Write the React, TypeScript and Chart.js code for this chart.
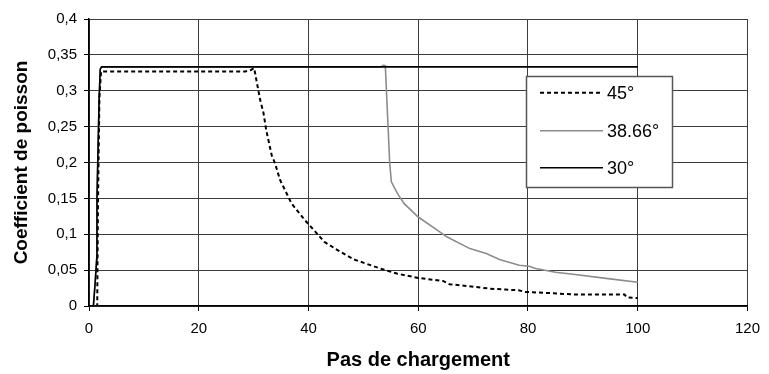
import React, { useEffect, useRef } from "react";
import { Chart, registerables } from "chart.js";

Chart.register(...registerables);

// Série 45°
const steps45 = [0, 1.5, 1.55, 1.65, 1.9, 2.2, 28.5, 29.5, 30.1, 30.6, 31.2, 31.8, 32.3, 32.7, 33.3, 33.9, 34.8, 36.9, 39.3, 42.9, 45.3, 48.3, 53.1, 56.1, 60, 64.5, 65.7, 69.3, 72.9, 75.9, 78.3, 79.5, 84, 88.6, 97.6, 98, 100];
const values45 = [0, 0, 0.06, 0.15, 0.29, 0.327, 0.327, 0.329, 0.3315, 0.311, 0.287, 0.269, 0.245, 0.231, 0.21, 0.199, 0.176, 0.143, 0.12, 0.0894, 0.0778, 0.0648, 0.0522, 0.0452, 0.0391, 0.0349, 0.0303, 0.0275, 0.0243, 0.0229, 0.0219, 0.0196, 0.018, 0.016, 0.0159, 0.012, 0.011];

// Série 38.66°
const steps3866 = [0, 0.8, 1.1, 1.4, 1.45, 1.85, 2.05, 2.3, 53.2, 53.6, 54.0, 54.2, 54.5, 54.8, 55.1, 56.2, 57.4, 60.0, 63.4, 65.2, 69.4, 72.4, 74.8, 78.4, 80.2, 81.4, 85, 88.6, 94.6, 100];
const values3866 = [0, 0, 0.03, 0.065, 0.15, 0.29, 0.33, 0.3333, 0.3333, 0.3355, 0.335, 0.301, 0.25, 0.199, 0.173, 0.157, 0.143, 0.124, 0.106, 0.0964, 0.08, 0.0732, 0.0648, 0.0568, 0.0554, 0.0522, 0.047, 0.0438, 0.0382, 0.033];

// Série 30°
const steps30 = [0, 0.8, 1.1, 1.4, 1.45, 1.85, 2.05, 2.3, 100];
const values30 = [0, 0, 0.03, 0.065, 0.15, 0.29, 0.33, 0.3335, 0.3333];

const seriesLabels = ["45°", "38.66°", "30°"];
const xTitle = "Pas de chargement";
const yTitle = "Coefficient de poisson";

const toPoints = (xs: number[], ys: number[]) => xs.map((x, i) => ({ x, y: ys[i] }));

const boxLegend = {
  id: "boxLegend",
  afterDatasetsDraw(chart: any) {
    const ctx = chart.ctx as CanvasRenderingContext2D;
    const bx = 526, by = 76, bw = 146, bh = 111;
    ctx.save();
    ctx.fillStyle = "#ffffff";
    ctx.fillRect(bx, by, bw, bh);
    ctx.strokeStyle = "#555555";
    ctx.lineWidth = 1.5;
    ctx.strokeRect(bx + 0.5, by + 0.5, bw, bh);
    const rows = [92.7, 130.7, 167.7];
    chart.data.datasets.forEach((ds: any, i: number) => {
      const y = rows[i];
      ctx.beginPath();
      ctx.strokeStyle = ds.borderColor;
      ctx.lineWidth = ds.borderWidth;
      ctx.setLineDash(ds.borderDash || []);
      ctx.moveTo(540, y);
      ctx.lineTo(603, y);
      ctx.stroke();
      ctx.setLineDash([]);
      ctx.fillStyle = "#000";
      ctx.font = "18px 'Liberation Sans', Arial, sans-serif";
      ctx.textBaseline = "middle";
      ctx.textAlign = "left";
      ctx.fillText(ds.label, 607, y + 1);
    });
    ctx.restore();
  },
};

export default function App() {
  const ref = useRef<HTMLCanvasElement | null>(null);

  useEffect(() => {
    if (!ref.current) return;
    const chart = new Chart(ref.current, {
      type: "line",
      data: {
        datasets: [
          {
            label: seriesLabels[0],
            data: toPoints(steps45, values45),
            borderColor: "#000000",
            borderWidth: 2,
            borderDash: [4, 3],
            pointRadius: 0,
            tension: 0,
            order: 0,
          },
          {
            label: seriesLabels[1],
            data: toPoints(steps3866, values3866),
            borderColor: "#8c8c8c",
            borderWidth: 1.6,
            pointRadius: 0,
            tension: 0,
            order: 2,
          },
          {
            label: seriesLabels[2],
            data: toPoints(steps30, values30),
            borderColor: "#000000",
            borderWidth: 1.6,
            pointRadius: 0,
            tension: 0,
            order: 1,
          },
        ],
      },
      options: {
        responsive: false,
        animation: false,
        parsing: true,
        layout: { padding: { left: 0, top: 19, right: 15, bottom: 0 } },
        plugins: { legend: { display: false }, tooltip: { enabled: false } },
        scales: {
          x: {
            type: "linear",
            min: 0,
            max: 120,
            afterFit: (s: any) => { s.height = 68; },
            ticks: {
              stepSize: 20,
              color: "#000",
              padding: 9,
              font: { family: "'Liberation Sans', Arial, sans-serif", size: 15 },
              maxRotation: 0,
            },
            grid: { color: "#3c3c3c", lineWidth: 1, tickLength: 5, tickColor: "#000" },
            border: { color: "#000", width: 1.5 },
            title: {
              display: true,
              text: xTitle,
              color: "#000",
              font: { family: "'Liberation Sans', Arial, sans-serif", size: 20, weight: "bold" },
              padding: { top: 0, bottom: 2 },
            },
          },
          y: {
            type: "linear",
            min: 0,
            max: 0.4,
            afterFit: (s: any) => { s.width = 89; },
            ticks: {
              stepSize: 0.05,
              color: "#000",
              padding: 7,
              font: { family: "'Liberation Sans', Arial, sans-serif", size: 15 },
              callback: (v: any) => String(Math.round(Number(v) * 100) / 100).replace(".", ","),
            },
            grid: { color: "#3c3c3c", lineWidth: 1, tickLength: 5, tickColor: "#000" },
            border: { color: "#000", width: 1.5 },
            title: {
              display: true,
              text: yTitle,
              color: "#000",
              font: { family: "'Liberation Sans', Arial, sans-serif", size: 19, weight: "bold" },
              padding: { top: 10, bottom: 0 },
            },
          },
        },
      },
      plugins: [boxLegend],
    });
    return () => chart.destroy();
  }, []);

  return (
    <div style={{ position: "fixed", left: 0, top: 0, width: 769, height: 374, background: "#fff" }}>
      <canvas ref={ref} width={769} height={374} style={{ display: "block", width: 769, height: 374 }} />
    </div>
  );
}
